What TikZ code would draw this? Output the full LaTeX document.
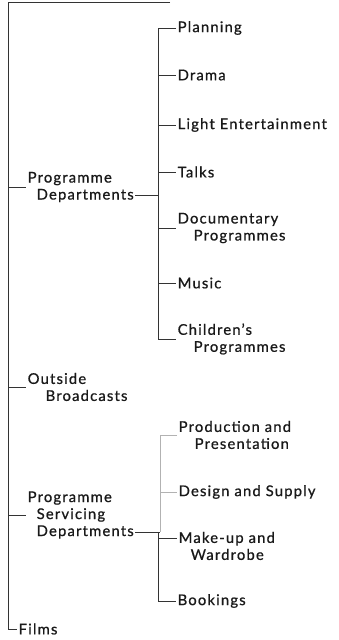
\documentclass[tikz,border=0pt]{standalone}
\usepackage{fontspec}
\setmainfont{Lato}[LetterSpace=8,FakeBold=0.8]
\usetikzlibrary{calc}
\tikzset{
  lbl/.style={anchor=west,inner xsep=1.5pt,inner ysep=0pt,align=left,
    font=\fontsize{14.8}{17}\selectfont,text=black!90},
  tree/.style={line width=1pt,draw=black!80},
  faint/.style={line width=1pt,draw=black!30}
}
\begin{document}
\begin{tikzpicture}[x=1pt,y=-1pt]
  \useasboundingbox (0,0) rectangle (338,640);
  % main stem
  \coordinate (top) at (8,2);
  \coordinate (topend) at (170,2);
  \coordinate (pdstem) at (158,28);
  \coordinate (psdstem) at (160,435);
  \draw
    (26,187) node[lbl] (pd){Programme\\\hspace*{9pt}Departments}
    (26,387) node[lbl] (ob){Outside\\\hspace*{18pt}Broadcasts}
    (26,515) node[lbl] (psd){Programme\\\hspace*{9pt}Servicing\\\hspace*{9pt}Departments}
    (17,629) node[lbl] (films){Films};
  % programme departments
  \draw
    (176,28) node[lbl] (plan){Planning}
    (176,75) node[lbl] (drama){Drama}
    (176,125) node[lbl] (light){Light Entertainment}
    (176,172) node[lbl] (talks){Talks}
    (176,228) node[lbl] (docu){Documentary\\\hspace*{16pt}Programmes}
    (176,283) node[lbl] (music){Music}
    (176,339) node[lbl] (child){Children's\\\hspace*{16pt}Programmes};
  % servicing departments
  \draw
    (177,435) node[lbl] (prod){Production and\\\hspace*{16pt}Presentation}
    (177,492) node[lbl] (design){Design and Supply}
    (177,546) node[lbl] (makeup){Make-up and\\\hspace*{12pt}Wardrobe}
    (176,601) node[lbl] (book){Bookings};
  \coordinate (pdj) at ($(pd.east)+(0,8)$);
  \coordinate (psdj) at ($(psd.east)+(0,17)$);
  \coordinate (mkj) at ($(makeup.west)+(0,-8)$);
  \begin{scope}[tree]
    \draw (topend) -- (top) -- (films.west -| top) -- (films.west);
    \draw (pd.west -| top) -- (pd.west);
    \draw (ob.west -| top) -- (ob.west);
    \draw (psd.west -| top) -- (psd.west);
    \draw (plan.west) -- (pdstem) -- (child.west -| pdstem) -- (child.west);
    \draw (drama.west -| pdstem) -- (drama.west);
    \draw (light.west -| pdstem) -- (light.west);
    \draw (talks.west -| pdstem) -- (talks.west);
    \draw (docu.west -| pdstem) -- (docu.west);
    \draw (music.west -| pdstem) -- (music.west);
    \draw (pdj) -- (pdj -| pdstem);
    \draw (psdj) -- (psdj -| psdstem);
    \draw (psdj -| pdstem) -- (book.west -| pdstem) -- (book.west);
    \draw (mkj -| pdstem) -- (mkj);
  \end{scope}
  \begin{scope}[faint]
    \draw (prod.west) -- (psdstem) -- (psdj -| psdstem);
    \draw (design.west -| psdstem) -- (design.west);
  \end{scope}
\end{tikzpicture}
\end{document}
